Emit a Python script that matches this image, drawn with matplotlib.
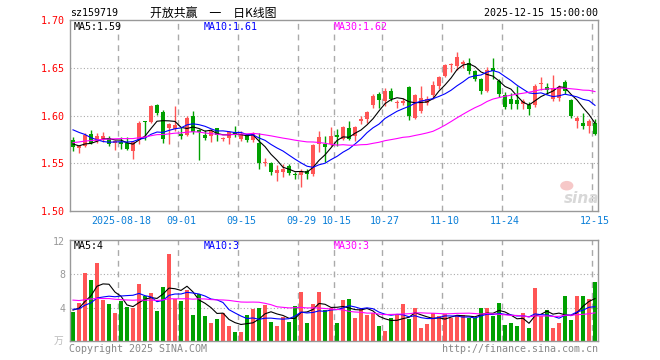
import numpy as np
import pandas as pd
import matplotlib
matplotlib.use('Agg')
import matplotlib.pyplot as plt
from matplotlib.patches import Rectangle, Ellipse

# daily K-line, 2025-08-06 .. 2025-12-15 (88 trading days)
opens = [1.574, 1.566, 1.568, 1.581, 1.573, 1.575, 1.576, 1.571, 1.572, 1.571,
         1.563, 1.574, 1.594, 1.593, 1.611, 1.604, 1.587, 1.586, 1.581, 1.580,
         1.600, 1.585, 1.580, 1.579, 1.587, 1.575, 1.576, 1.583, 1.575, 1.579,
         1.574, 1.571, 1.550, 1.550, 1.540, 1.541, 1.547, 1.539, 1.538, 1.542,
         1.539, 1.570, 1.570, 1.570, 1.580, 1.575, 1.587, 1.579, 1.594, 1.596,
         1.611, 1.622, 1.615, 1.626, 1.613, 1.613, 1.630, 1.597, 1.605, 1.613,
         1.621, 1.631, 1.641, 1.653, 1.652, 1.654, 1.655, 1.647, 1.638, 1.626,
         1.650, 1.636, 1.621, 1.617, 1.616, 1.612, 1.611, 1.611, 1.633, 1.630,
         1.617, 1.618, 1.635, 1.616, 1.594, 1.592, 1.589, 1.592]
highs = [1.577, 1.569, 1.582, 1.585, 1.582, 1.583, 1.579, 1.574, 1.577, 1.578,
         1.573, 1.594, 1.594, 1.611, 1.612, 1.606, 1.592, 1.610, 1.588, 1.599,
         1.605, 1.586, 1.585, 1.586, 1.587, 1.578, 1.584, 1.589, 1.584, 1.581,
         1.583, 1.582, 1.556, 1.551, 1.548, 1.549, 1.549, 1.541, 1.544, 1.544,
         1.570, 1.584, 1.579, 1.588, 1.586, 1.589, 1.594, 1.589, 1.600, 1.605,
         1.623, 1.625, 1.629, 1.629, 1.616, 1.618, 1.631, 1.622, 1.631, 1.620,
         1.636, 1.641, 1.654, 1.655, 1.667, 1.658, 1.660, 1.648, 1.639, 1.651,
         1.660, 1.638, 1.625, 1.624, 1.631, 1.617, 1.614, 1.633, 1.640, 1.634,
         1.642, 1.632, 1.637, 1.617, 1.600, 1.603, 1.596, 1.596]
lows = [1.563, 1.561, 1.567, 1.570, 1.571, 1.572, 1.568, 1.564, 1.565, 1.564,
        1.554, 1.570, 1.574, 1.592, 1.601, 1.571, 1.570, 1.584, 1.575, 1.579,
        1.581, 1.553, 1.574, 1.572, 1.573, 1.573, 1.570, 1.577, 1.573, 1.572,
        1.572, 1.544, 1.547, 1.538, 1.531, 1.536, 1.538, 1.533, 1.525, 1.533,
        1.537, 1.562, 1.551, 1.568, 1.568, 1.574, 1.574, 1.573, 1.591, 1.592,
        1.608, 1.608, 1.610, 1.615, 1.608, 1.611, 1.595, 1.596, 1.603, 1.611,
        1.617, 1.628, 1.640, 1.646, 1.648, 1.650, 1.643, 1.636, 1.622, 1.625,
        1.638, 1.619, 1.607, 1.607, 1.607, 1.607, 1.601, 1.609, 1.627, 1.622,
        1.615, 1.615, 1.623, 1.597, 1.587, 1.586, 1.582, 1.580]
closes = [1.567, 1.568, 1.580, 1.571, 1.579, 1.579, 1.570, 1.573, 1.570, 1.565,
          1.572, 1.592, 1.593, 1.610, 1.603, 1.575, 1.591, 1.590, 1.579, 1.597,
          1.583, 1.583, 1.576, 1.584, 1.580, 1.576, 1.583, 1.580, 1.581, 1.574,
          1.581, 1.550, 1.551, 1.541, 1.543, 1.544, 1.540, 1.538, 1.542, 1.539,
          1.569, 1.577, 1.567, 1.579, 1.577, 1.588, 1.575, 1.588, 1.596, 1.604,
          1.620, 1.616, 1.626, 1.617, 1.614, 1.615, 1.600, 1.621, 1.618, 1.617,
          1.632, 1.640, 1.653, 1.654, 1.661, 1.656, 1.647, 1.638, 1.626, 1.648,
          1.647, 1.622, 1.609, 1.612, 1.612, 1.615, 1.607, 1.631, 1.634, 1.627,
          1.629, 1.630, 1.626, 1.599, 1.597, 1.589, 1.594, 1.581]
# volume, 万
volume = [3.5, 4.6, 8.1, 7.3, 9.3, 4.9, 4.4, 3.4, 4.8, 4.1,
          3.9, 6.8, 5.4, 5.8, 3.6, 6.5, 10.4, 5.0, 4.8, 6.1,
          3.1, 5.6, 3.0, 2.2, 2.6, 3.3, 1.8, 1.1, 1.1, 3.1,
          3.8, 4.0, 4.3, 2.3, 1.8, 2.9, 2.3, 4.2, 5.9, 2.1,
          4.4, 5.9, 3.7, 4.0, 2.2, 4.9, 5.0, 2.7, 3.8, 3.1,
          3.4, 1.8, 1.2, 2.8, 3.2, 4.4, 2.6, 4.0, 1.5, 2.0,
          3.4, 3.0, 3.2, 2.7, 3.1, 3.1, 2.8, 2.8, 4.0, 4.0,
          3.0, 4.5, 1.9, 2.1, 1.8, 3.3, 1.5, 6.4, 3.0, 3.7,
          1.5, 2.1, 5.4, 2.5, 5.4, 5.4, 5.0, 7.1]
# days before the window, only feeding the moving averages (estimated)
prev_close = [1.548, 1.552, 1.556, 1.560, 1.558, 1.562, 1.565, 1.563, 1.567, 1.570,
              1.566, 1.568, 1.571, 1.569, 1.572, 1.570, 1.568, 1.571, 1.573, 1.570,
              1.595, 1.602, 1.605, 1.600, 1.597, 1.578, 1.570, 1.568, 1.568]
prev_vol = [6.2, 5.1, 4.8, 7.0, 5.6, 4.3, 5.9, 6.4, 5.2, 4.7,
            5.8, 6.6, 4.9, 5.3, 4.4, 6.1, 5.5, 4.6, 5.7, 4.9,
            4.2, 3.6, 4.5, 3.5, 3.7, 3.4, 4.1, 3.9, 3.6]

tick_pos = [8, 18, 28, 38, 44, 52, 62, 72, 87]
tick_labels = ['2025-08-18', '09-01', '09-15', '09-29', '10-15', '10-27', '11-10', '11-24', '12-15']
price_ticks = [1.50, 1.55, 1.60, 1.65, 1.70]
vol_ticks = [4, 8, 12]

RED = '#ff5555'
GREEN = '#00a000'
GRID = '#aaaaaa'
MONO = 'DejaVu Sans Mono'

n = len(closes)
x = np.arange(n)
c_all = pd.Series(prev_close + closes)
v_all = pd.Series(prev_vol + volume)
k = len(prev_close)
ma = {w: c_all.rolling(w).mean().values[k:] for w in (5, 10, 30)}
vma = {w: v_all.rolling(w).mean().values[k:] for w in (5, 10, 30)}
ma_col = {5: 'black', 10: '#0000ff', 30: '#ff00ff'}

fig = plt.figure(figsize=(6.6, 3.6), dpi=100)
ax = fig.add_axes([70/660, 1-211/360, 528/660, 191/360])
axv = fig.add_axes([70/660, 1-341/360, 528/660, 101/360])

def frame(a):
    for s in a.spines.values():
        s.set_color('#999999')
        s.set_linewidth(1)
    a.set_xlim(-0.5, n - 0.5)
    for p in tick_pos:
        a.axvline(p - 0.45, color=GRID, lw=1, ls=(0, (4.2, 3.5)), zorder=0)

frame(ax)
frame(axv)

# candles
bw = 0.8
for i in range(n):
    up = closes[i] >= opens[i]
    col = RED if up else GREEN
    ax.vlines(x[i], lows[i], highs[i], color=col, lw=1, zorder=2)
    lo = min(opens[i], closes[i])
    h = max(abs(closes[i] - opens[i]), 0.0006)
    ax.add_patch(Rectangle((x[i] - bw/2, lo), bw, h, color=col, lw=0, zorder=3))
    axv.add_patch(Rectangle((x[i] - bw/2, 0), bw, volume[i], color=col, lw=0, zorder=2))

for w in (5, 10, 30):
    ax.plot(x, ma[w], color=ma_col[w], lw=0.8, zorder=4)
    axv.plot(x, vma[w], color=ma_col[w], lw=0.8, zorder=4)

ax.set_ylim(1.50, 1.70)
for p in price_ticks[1:-1]:
    ax.axhline(p, color=GRID, lw=0.8, ls=(0, (1, 2)), zorder=0)
ax.set_yticks(price_ticks)
ax.set_yticklabels(['%.2f' % p for p in price_ticks], color='red', fontsize=7.2, family=MONO)
ax.set_xticks(tick_pos)
ax.set_xticklabels(tick_labels, color='#0a7fd8', fontsize=7.2, family=MONO)
ax.tick_params(length=0, pad=3.5)

axv.set_ylim(0, 12.1)
for v in vol_ticks[:-1]:
    axv.axhline(v, color=GRID, lw=0.8, ls=(0, (1, 2)), zorder=0)
axv.set_yticks(vol_ticks)
axv.set_yticklabels([str(v) for v in vol_ticks], color='#999999', fontsize=7.2, family=MONO)
axv.set_xticks([])
axv.tick_params(length=0, pad=3.5)

def px(xp, yp):
    return xp / 660, 1 - yp / 360

fs = 7.2
fig.text(*px(70, 13), 'sz159719', fontsize=fs, family=MONO, va='center')
fig.text(*px(213, 13), '开放共赢\u3000一\u3000日K线图', fontsize=8.6,
         family=['Noto Sans CJK SC', 'DejaVu Sans'], va='center', ha='center')
fig.text(*px(598, 13), '2025-12-15 15:00:00', fontsize=fs, family=MONO, va='center', ha='right')

for xp, txt, col in [(74, 'MA5:1.59', 'black'), (204, 'MA10:1.61', '#0000ff'), (334, 'MA30:1.62', '#ff00ff')]:
    fig.text(*px(xp, 26.5), txt, fontsize=fs, family=MONO, color=col, va='center')
for xp, txt, col in [(74, 'MA5:4', 'black'), (204, 'MA10:3', '#0000ff'), (334, 'MA30:3', '#ff00ff')]:
    fig.text(*px(xp, 246), txt, fontsize=fs, family=MONO, color=col, va='center')

fig.text(*px(63, 341), '万', fontsize=7, family=['Noto Sans CJK SC', 'DejaVu Sans'],
         color='#bbbbbb', va='center', ha='right')
fig.text(*px(69, 349), 'Copyright 2025 SINA.COM', fontsize=fs, family=MONO, color='#888888', va='center')
fig.text(*px(598, 349), 'http://finance.sina.com.cn', fontsize=fs, family=MONO, color='#888888',
         va='center', ha='right')

# faint sina watermark
fig.text(*px(582, 198), 'sina', fontsize=11, family='DejaVu Sans', weight='bold', style='italic',
         color='#d8d8d8', ha='center', va='center')
ax.add_patch(Ellipse((82.3, 1.5265), 2.2, 0.01, color='#f6c8c8', lw=0, zorder=1))

fig.savefig('out.png', dpi=100)
